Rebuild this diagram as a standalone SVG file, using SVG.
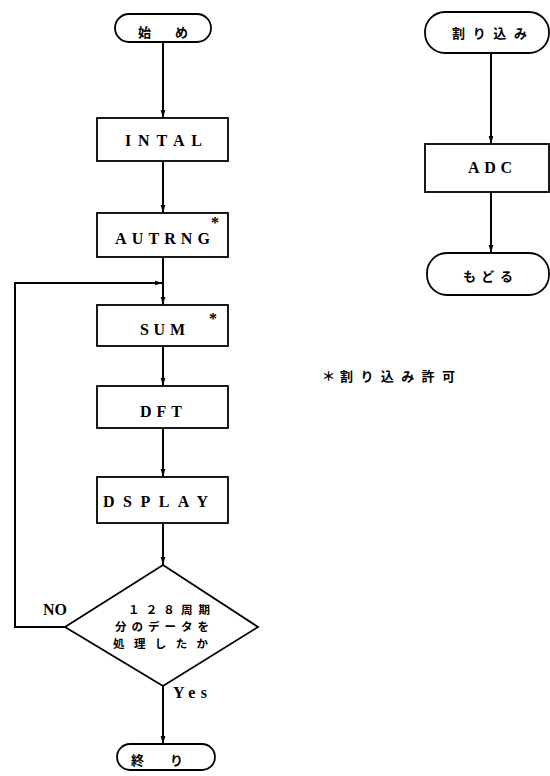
<svg xmlns="http://www.w3.org/2000/svg" width="550" height="776" viewBox="0 0 550 776">
<style>
.box{fill:#fff;stroke:#000;stroke-width:1.8}
.ln{fill:none;stroke:#000;stroke-width:2}
.t{font-family:"Liberation Serif",serif;font-weight:bold;font-size:16px;fill:#000}
.j{font-family:"Noto Sans CJK JP",sans-serif;font-weight:bold;font-size:13px;fill:#000}
.d{font-size:11.5px}
</style>
<defs>
<marker id="ah" markerWidth="8" markerHeight="14" refX="12" refY="3.5" viewBox="0 0 12 7" markerUnits="userSpaceOnUse" orient="auto">
<path d="M0,0 L12,3.5 L0,7 Z" fill="#000"/>
</marker>
</defs>
<rect width="550" height="776" fill="#fff"/>
<g id="connectors">
<line class="ln" x1="163" y1="42" x2="163" y2="118" marker-end="url(#ah)"/>
<line class="ln" x1="163" y1="161" x2="163" y2="213" marker-end="url(#ah)"/>
<line class="ln" x1="163" y1="257" x2="163" y2="305" marker-end="url(#ah)"/>
<polyline class="ln" points="65,627 15,627 15,283 163,283" marker-end="url(#ah)"/>
<line class="ln" x1="163" y1="346" x2="163" y2="386" marker-end="url(#ah)"/>
<line class="ln" x1="163" y1="428" x2="163" y2="477" marker-end="url(#ah)"/>
<line class="ln" x1="163" y1="523" x2="163" y2="565" marker-end="url(#ah)"/>
<line class="ln" x1="163" y1="686" x2="163" y2="744" marker-end="url(#ah)"/>
<line class="ln" x1="491" y1="53" x2="491" y2="144" marker-end="url(#ah)"/>
<line class="ln" x1="491" y1="192" x2="491" y2="253" marker-end="url(#ah)"/>
<text class="t" x="43" y="615" font-size="14">NO</text>
<text class="t" x="173" y="698" font-size="14" textLength="34" lengthAdjust="spacing">Yes</text>
</g>
<g id="start">
<rect class="box" x="115" y="14" width="96" height="28" rx="14"/>
<text class="j" x="138" y="37">始</text>
<text class="j" x="175" y="37">め</text>
</g>
<g id="intal">
<rect class="box" x="97" y="118" width="131" height="43"/>
<text class="t" x="125" y="146" textLength="77" lengthAdjust="spacing">INTAL</text>
</g>
<g id="autrng">
<rect class="box" x="97" y="213" width="131" height="44"/>
<text class="t" x="115" y="244" textLength="95" lengthAdjust="spacing">AUTRNG</text>
<text class="t" x="211" y="228" font-size="14">*</text>
</g>
<g id="sum">
<rect class="box" x="97" y="305" width="131" height="41"/>
<text class="t" x="140" y="335" textLength="45" lengthAdjust="spacing">SUM</text>
<text class="t" x="209" y="324" font-size="14">*</text>
</g>
<g id="dft">
<rect class="box" x="97" y="386" width="131" height="42"/>
<text class="t" x="140" y="417" textLength="42" lengthAdjust="spacing">DFT</text>
</g>
<g id="dsplay">
<rect class="box" x="97" y="477" width="131" height="46"/>
<text class="t" x="103" y="507" textLength="105" lengthAdjust="spacing">DSPLAY</text>
</g>
<g id="decision">
<polygon class="box" points="163,565 258,627 163,686 65,627"/>
<text class="j d" x="128" y="614" textLength="82" lengthAdjust="spacing">１２８周期</text>
<text class="j d" x="115" y="631" textLength="94" lengthAdjust="spacing">分のデータを</text>
<text class="j d" x="113" y="648" textLength="95" lengthAdjust="spacing">処理したか</text>
</g>
<g id="end">
<rect class="box" x="117" y="744" width="98" height="26" rx="13"/>
<text class="j" x="131" y="765">終</text>
<text class="j" x="170" y="765">り</text>
</g>
<g id="interrupt">
<rect class="box" x="425" y="12" width="124" height="41" rx="20"/>
<text class="j" x="452" y="38" textLength="75" lengthAdjust="spacing">割り込み</text>
</g>
<g id="adc">
<rect class="box" x="425" y="144" width="124" height="48"/>
<text class="t" x="468" y="173" textLength="44" lengthAdjust="spacing">ADC</text>
</g>
<g id="return">
<rect class="box" x="427" y="253" width="122" height="42" rx="20"/>
<text class="j" x="463" y="281" textLength="50" lengthAdjust="spacing">もどる</text>
</g>
<g id="note">
<text class="j" x="322" y="381">＊</text>
<text class="j" x="340" y="381" textLength="115" lengthAdjust="spacing">割り込み許可</text>
</g>
</svg>
